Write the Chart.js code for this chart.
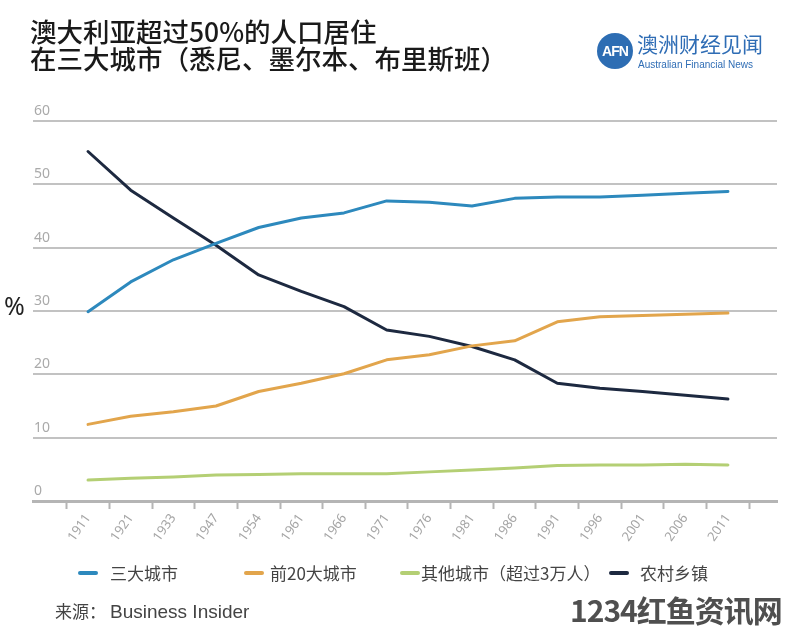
<!DOCTYPE html>
<html>
<head>
<meta charset="utf-8">
<script src="https://cdn.jsdelivr.net/npm/chart.js@4.4.1/dist/chart.umd.min.js"></script>
<style>
html,body{margin:0;padding:0;background:#fff;}
#wrap{position:relative;width:786px;height:631px;overflow:hidden;background:#fff;}
#c{position:absolute;left:0;top:0;}
.cjk{font-family:"Noto Sans CJK SC","Noto Sans",sans-serif;}
#pct{position:absolute;left:4px;top:293px;font:25px "Noto Sans",sans-serif;color:#222;line-height:1;}
#logoCirc{position:absolute;left:597px;top:33px;width:36px;height:36px;border-radius:50%;background:#2d6db3;color:#fff;
  font:bold 14px "Liberation Sans",sans-serif;letter-spacing:-1px;text-align:center;line-height:36px;}
#logoCn{position:absolute;left:637px;top:33px;font-size:21px;line-height:1;color:#2f6db5;}
#logoEn{position:absolute;left:638px;top:60px;font:10px "Liberation Sans",sans-serif;color:#2f6db5;line-height:1;}
#src{position:absolute;left:55px;top:602px;font-size:17px;line-height:1;color:#444;white-space:nowrap;}
#src span{margin-left:4px;font-size:19px;font-family:"Liberation Sans","Noto Sans",sans-serif;}
#wm{position:absolute;left:570px;top:594px;font-size:30px;font-weight:bold;line-height:1;color:#4f4f4f;
  text-shadow:0 0 2px #fff,0 0 2px #fff;letter-spacing:-1px;}
#legend{position:absolute;left:0;top:0;width:786px;height:631px;pointer-events:none;}
.lgItem{position:absolute;top:563px;height:20px;white-space:nowrap;}
.lgMark{position:absolute;top:8px;width:20px;height:4px;border-radius:2px;}
.lgText{position:absolute;top:0;font-size:17px;line-height:20px;color:#444;}
</style>
</head>
<body>
<div id="wrap">
<canvas id="c" width="786" height="631"></canvas>
<div id="pct">%</div>
<div id="logoCirc">AFN</div>
<div id="logoCn" class="cjk">澳洲财经见闻</div>
<div id="logoEn">Australian Financial News</div>
<div id="legend" class="cjk"></div>
<div id="src" class="cjk">来源：<span>Business Insider</span></div>
<div id="wm" class="cjk">1234红鱼资讯网</div>
</div>
<script>
// ---- data ----
const years = ['1911','1921','1933','1947','1954','1961','1966','1971','1976','1981','1986','1991','1996','2001','2006','2011'];
const bigThree    = [29.9, 34.6, 38.1, 40.7, 43.2, 44.7, 45.5, 47.4, 47.2, 46.6, 47.8, 48.0, 48.0, 48.3, 48.6, 48.9];
const top20       = [12.1, 13.4, 14.1, 15.0, 17.3, 18.6, 20.1, 22.3, 23.1, 24.5, 25.3, 28.3, 29.1, 29.3, 29.5, 29.7];
const otherCities = [3.3, 3.6, 3.8, 4.1, 4.2, 4.3, 4.3, 4.3, 4.6, 4.9, 5.2, 5.6, 5.7, 5.7, 5.8, 5.7];
const rural       = [55.2, 49.1, 44.7, 40.4, 35.7, 33.1, 30.7, 27.0, 26.0, 24.4, 22.3, 18.6, 17.8, 17.3, 16.7, 16.1];
const seriesNames = ['三大城市', '前20大城市', '其他城市（超过3万人）', '农村乡镇'];
const titleLines = ['澳大利亚超过50%的人口居住', '在三大城市（悉尼、墨尔本、布里斯班）'];
const yTickValues = [0, 10, 20, 30, 40, 50, 60];

// ---- styling (not data) ----
const colors = ['#2d89bd', '#e2a54c', '#b4cf74', '#1d2940'];
const legendMarkLeft = [78, 244, 400, 609];
const legendTextLeft = [110, 270, 421, 640];
const CJK = '"Noto Sans CJK SC","Noto Sans",sans-serif';

const seriesValues = [bigThree, top20, otherCities, rural];
const datasets = seriesValues.map((vals, s) => ({
  label: seriesNames[s],
  data: vals.map((v, i) => ({x: i, y: v})),
  borderColor: colors[s],
  backgroundColor: colors[s],
  borderWidth: 3,
  pointRadius: 0,
  tension: 0,
  fill: false,
  borderCapStyle: 'round',
  borderJoinStyle: 'round'
}));

// x ticks: boundary tick marks at half-integers, labels at integers
const xTicks = [];
for (let i = -0.5; i <= years.length - 0.5; i += 0.5) xTicks.push(i);

const chart = new Chart(document.getElementById('c'), {
  type: 'line',
  data: {datasets},
  options: {
    responsive: false,
    animation: false,
    events: [],
    layout: {padding: {left: 30, right: 9, top: 0, bottom: 84}},
    plugins: {
      tooltip: {enabled: false},
      legend: {display: false},
      title: {
        display: true,
        text: titleLines,
        align: 'start',
        color: '#1a1a1a',
        font: {family: CJK, size: 26.5, weight: 500, lineHeight: 1.04},
        padding: {top: 18, bottom: 48}
      }
    },
    scales: {
      x: {
        type: 'linear',
        min: -1.29,
        max: 16.15,
        afterBuildTicks: (scale) => { scale.ticks = xTicks.map(v => ({value: v})); },
        afterFit: (scale) => { scale.height = 46; },
        grid: {
          drawOnChartArea: false,
          drawTicks: true,
          tickLength: 8,
          tickWidth: 2,
          tickColor: (ctx) => (ctx.tick && Number.isInteger(ctx.tick.value)) ? 'rgba(0,0,0,0)' : '#b5b5b5'
        },
        border: {display: true, color: '#b5b5b5', width: 3},
        ticks: {
          autoSkip: false,
          maxRotation: 55,
          minRotation: 55,
          padding: 2,
          color: '#a5a5a5',
          font: {family: '"Noto Sans",sans-serif', size: 13},
          callback: (v) => Number.isInteger(v) && years[v] !== undefined ? years[v] : ''
        }
      },
      y: {
        type: 'linear',
        min: 0,
        max: 60,
        afterBuildTicks: (scale) => { scale.ticks = yTickValues.map(v => ({value: v})); },
        afterFit: (scale) => { scale.width = 3; },
        border: {display: false},
        grid: {
          color: '#c2c2c2',
          lineWidth: 2,
          drawTicks: false
        },
        ticks: {
          mirror: true,
          padding: 1,
          labelOffset: -10,
          color: '#aaa',
          font: {family: '"Noto Sans",sans-serif', size: 14}
        }
      }
    }
  }
});

// HTML legend built from the chart's datasets
const lg = document.getElementById('legend');
chart.data.datasets.forEach((ds, i) => {
  const item = document.createElement('div');
  item.className = 'lgItem';
  item.style.left = '0px';
  const mark = document.createElement('div');
  mark.className = 'lgMark';
  mark.style.left = legendMarkLeft[i] + 'px';
  mark.style.background = ds.borderColor;
  const txt = document.createElement('div');
  txt.className = 'lgText';
  txt.style.left = legendTextLeft[i] + 'px';
  txt.textContent = ds.label;
  item.appendChild(mark);
  item.appendChild(txt);
  lg.appendChild(item);
});
</script>
</body>
</html>
